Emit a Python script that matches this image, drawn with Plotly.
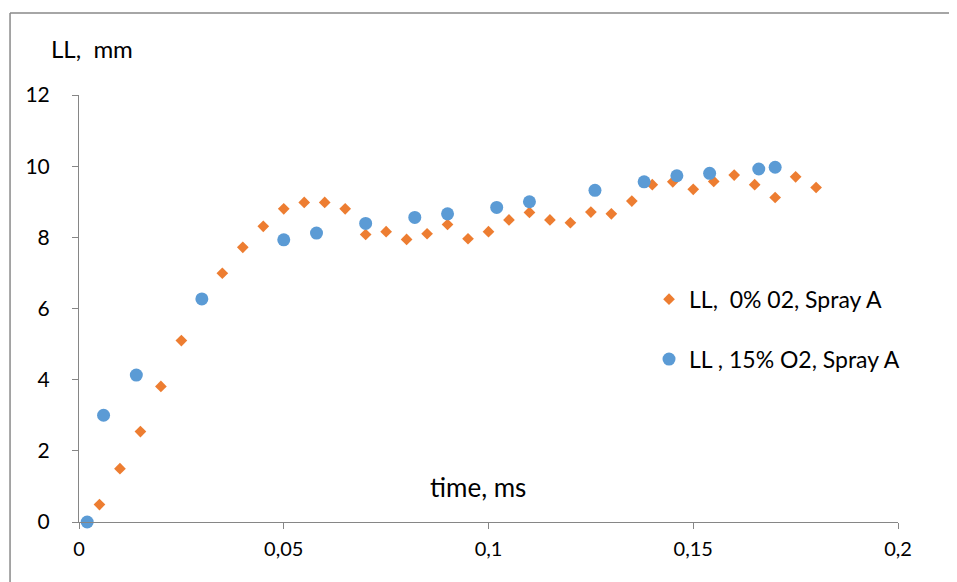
import plotly.graph_objects as go

# Series: LL, 0% O2, Spray A
t_0 = [0.005, 0.01, 0.015, 0.02, 0.025, 0.035, 0.04, 0.045, 0.05, 0.055, 0.06, 0.065,
       0.07, 0.075, 0.08, 0.085, 0.09, 0.095, 0.1, 0.105, 0.11, 0.115, 0.12, 0.125,
       0.13, 0.135, 0.14, 0.145, 0.15, 0.155, 0.16, 0.165, 0.17, 0.175, 0.18]
ll_0 = [0.49, 1.50, 2.54, 3.81, 5.10, 6.99, 7.72, 8.31, 8.80, 8.98, 8.98, 8.80,
        8.08, 8.16, 7.94, 8.10, 8.36, 7.96, 8.16, 8.49, 8.70, 8.49, 8.41, 8.71,
        8.66, 9.02, 9.48, 9.56, 9.35, 9.57, 9.75, 9.48, 9.12, 9.70, 9.40]

# Series: LL, 15% O2, Spray A
t_15 = [0.002, 0.006, 0.014, 0.03, 0.05, 0.058, 0.07, 0.082, 0.09, 0.102, 0.11,
        0.126, 0.138, 0.146, 0.154, 0.166, 0.17]
ll_15 = [0.0, 3.0, 4.13, 6.27, 7.93, 8.12, 8.39, 8.56, 8.66, 8.84, 9.0,
         9.32, 9.56, 9.73, 9.80, 9.92, 9.97]

x_ticks = [0, 0.05, 0.1, 0.15, 0.2]
x_tick_labels = ["0", "0,05", "0,1", "0,15", "0,2"]
y_ticks = [0, 2, 4, 6, 8, 10, 12]

FONT = "Lato"
AXIS_COLOR = "#868686"
BORDER_COLOR = "#898989"

fig = go.Figure()
fig.add_trace(go.Scatter(
    x=t_0, y=ll_0, mode="markers", name="LL,\u00a0 0% 02, Spray A",
    marker=dict(symbol="diamond", size=9, color="#ED7D31"),
    cliponaxis=False, legendgroup="a",
))
fig.add_trace(go.Scatter(
    x=t_15, y=ll_15, mode="markers", name="LL , 15% O2, Spray A",
    marker=dict(symbol="circle", size=13, color="#5B9BD5"),
    cliponaxis=False, legendgroup="b",
))

fig.update_layout(
    width=949, height=574,
    margin=dict(l=71, r=59, t=87, b=60),
    paper_bgcolor="white", plot_bgcolor="white",
    font=dict(family=FONT, size=18, color="#000000"),
    showlegend=True,
    legend=dict(x=0.696, y=0.572, xanchor="left", yanchor="top",
                font=dict(family=FONT, size=23, color="#000000"),
                tracegroupgap=27, bgcolor="rgba(0,0,0,0)", itemsizing="trace"),
    xaxis=dict(range=[0, 0.2], tickvals=x_ticks, ticktext=x_tick_labels,
               showgrid=False, zeroline=False, showline=True, linecolor=AXIS_COLOR,
               linewidth=1, ticks="outside", ticklen=6, tickcolor=AXIS_COLOR,
               ticklabelstandoff=3, tickfont=dict(family=FONT, size=20)),
    yaxis=dict(range=[0, 12], tickvals=y_ticks,
               showgrid=False, zeroline=False, showline=True, linecolor=AXIS_COLOR,
               linewidth=1, ticks="outside", ticklen=6, tickcolor=AXIS_COLOR,
               ticklabelstandoff=18, tickfont=dict(family=FONT, size=21)),
    annotations=[
        dict(text="LL,\u00a0 mm", xref="paper", yref="paper", x=-0.037, y=1.110,
             xanchor="left", yanchor="middle", showarrow=False,
             font=dict(family=FONT, size=24)),
        dict(text="time, ms", xref="paper", yref="paper", x=0.487, y=0.082,
             xanchor="center", yanchor="middle", showarrow=False,
             font=dict(family=FONT, size=26)),
    ],
    shapes=[
        # chart-area frame: left and top edges (right/bottom lie outside the view)
        dict(type="line", xref="paper", yref="paper", x0=-0.0842, x1=-0.0842,
             y0=-0.3, y1=1.192, line=dict(color=BORDER_COLOR, width=1.5), layer="below"),
        dict(type="line", xref="paper", yref="paper", x0=-0.0842, x1=1.3,
             y0=1.192, y1=1.192, line=dict(color=BORDER_COLOR, width=1.5), layer="below"),
    ],
)

fig.write_html("out.html")
